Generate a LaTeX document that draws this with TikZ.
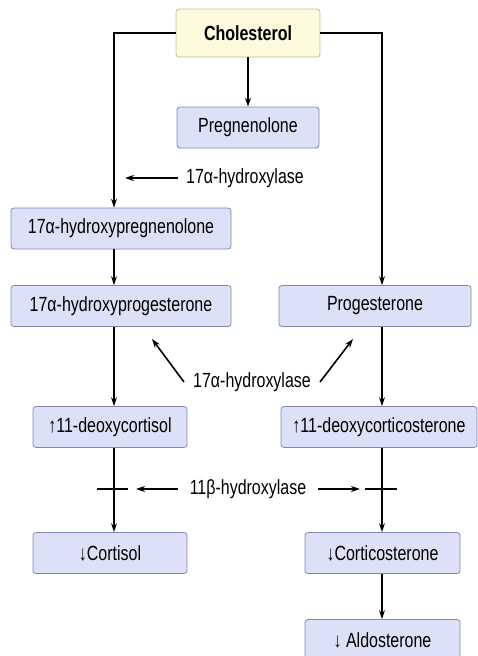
\documentclass[tikz,border=0pt]{standalone}
\usepackage{fontspec}
\setmainfont{Liberation Sans}[FakeStretch=0.78]
\usetikzlibrary{arrows.meta}
\definecolor{boxfill}{RGB}{221,225,247}
\definecolor{boxline}{RGB}{128,134,176}
\definecolor{cholfill}{RGB}{253,250,222}
\definecolor{cholline}{RGB}{200,192,140}
\begin{document}
\begin{tikzpicture}[x=1pt,y=-1pt,font=\fontsize{20.5}{23}\selectfont,
box/.style={rectangle,rounded corners=3pt,draw=boxline,fill=boxfill,line width=0.8pt,minimum width=#1,minimum height=41pt,inner sep=0},
arr/.style={-{Stealth[length=9pt,width=6pt]},line width=1.6pt},tick/.style={line width=1.6pt},enz/.style={inner sep=0}]
\useasboundingbox(0,0)rectangle(478,656);
\coordinate(lx)at(114,0);\coordinate(rx)at(382,0);
\node[box=144,minimum height=48pt,fill=cholfill,draw=cholline,font=\fontsize{20.5}{23}\selectfont\bfseries](chol)at(248,33){Cholesterol};
\node[box=142](preg)at(248,127.5){Pregnenolone};
\node[box=220](hpreg)at(121,228.5){17α-hydroxypregnenolone};
\node[box=220](hprog)at(121,306){17α-hydroxyprogesterone};
\node[box=192](prog)at(375,306){Progesterone};
\node[box=154](dxcl)at(110,427){↑11-deoxycortisol};
\node[box=196](dxcs)at(379,427){↑11-deoxycorticosterone};
\node[box=154](crt)at(110,553){↓Cortisol};
\node[box=155](cst)at(382.5,553){↓Corticosterone};
\node[box=155](ald)at(382.5,640){↓ Aldosterone};
\node[enz](enza)at(245,178){17α-hydroxylase};
\node[enz](enzb)at(252,382){17α-hydroxylase};
\node[enz](enzc)at(248,489){11β-hydroxylase};
\draw[arr](chol.south)--(preg.north);
\draw[arr](chol.west)-|(hpreg.north-|lx);
\draw[arr](chol.east)-|(prog.north-|rx);
\foreach \a/\b/\c in {hpreg/hprog/lx,hprog/dxcl/lx,dxcl/crt/lx,prog/dxcs/rx,dxcs/cst/rx,cst/ald/rx}\draw[arr](\a.south-|\c)--(\b.north-|\c);
\draw[arr]([xshift=-8pt]enza.west)--([xshift=11pt]lx|-enza);
\draw[arr]([xshift=-9pt]enzb.west)--([shift={(31,12)}]hprog.south);
\draw[arr]([xshift=9pt]enzb.east)--([shift={(-22,12)}]prog.south);
\draw[arr]([xshift=-12pt]enzc.west)--([xshift=22pt]lx|-enzc);
\draw[arr]([xshift=12pt]enzc.east)--([xshift=-22pt]rx|-enzc);
\draw[tick]([xshift=-17pt]lx|-enzc)--([xshift=14pt]lx|-enzc);
\draw[tick]([xshift=-17pt]rx|-enzc)--([xshift=15pt]rx|-enzc);
\end{tikzpicture}
\end{document}
